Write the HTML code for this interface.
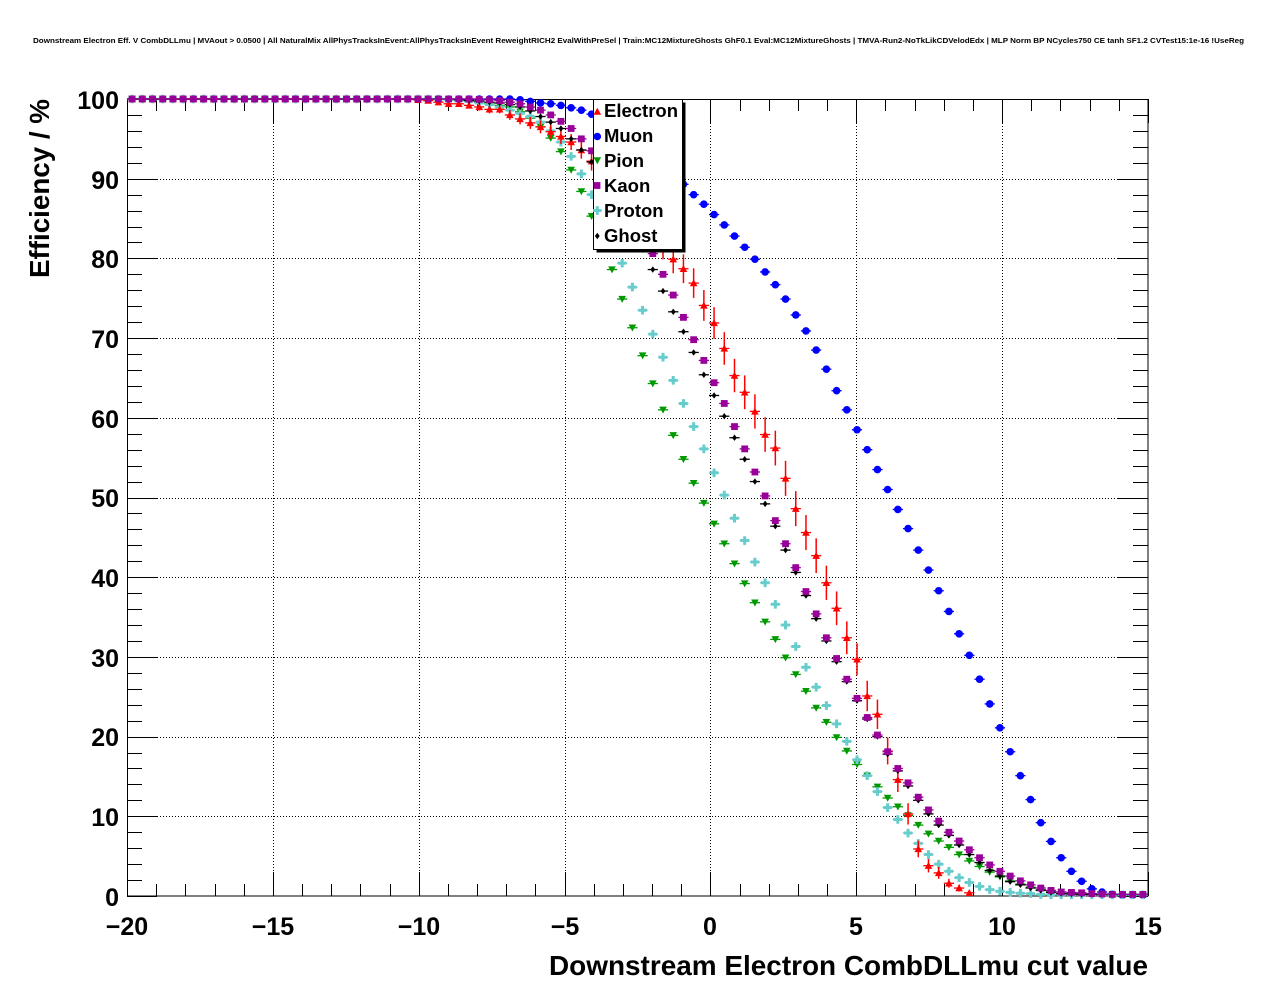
<!DOCTYPE html>
<html>
<head>
<meta charset="utf-8">
<style>
html,body{margin:0;padding:0;background:#fff;}
svg{display:block;}
text{font-family:"Liberation Sans",Arial,Helvetica,sans-serif;font-weight:bold;fill:#000;}
</style>
</head>
<body>
<svg id="c" width="1276" height="996" viewBox="0 0 1276 996" xmlns="http://www.w3.org/2000/svg">
<rect x="0" y="0" width="1276" height="996" fill="#fff"/>
<text x="33" y="43" font-size="7" textLength="1211" lengthAdjust="spacingAndGlyphs">Downstream Electron Eff. V CombDLLmu | MVAout &gt; 0.0500 | All NaturalMix AllPhysTracksInEvent:AllPhysTracksInEvent ReweightRICH2 EvalWithPreSel | Train:MC12MixtureGhosts GhF0.1 Eval:MC12MixtureGhosts | TMVA-Run2-NoTkLikCDVelodEdx | MLP Norm BP NCycles750 CE tanh SF1.2 CVTest15:1e-16 !UseReg</text>
<g id="grid"></g>
<g id="ticks"></g>
<rect x="127.5" y="99.5" width="1020.5" height="796.5" fill="none" stroke="#000" stroke-width="1"/>
<g id="data"></g>
<g font-size="25">
<text x="119" y="109" text-anchor="end">100</text>
<text x="119" y="189" text-anchor="end">90</text>
<text x="119" y="268" text-anchor="end">80</text>
<text x="119" y="348" text-anchor="end">70</text>
<text x="119" y="428" text-anchor="end">60</text>
<text x="119" y="507" text-anchor="end">50</text>
<text x="119" y="587" text-anchor="end">40</text>
<text x="119" y="667" text-anchor="end">30</text>
<text x="119" y="746" text-anchor="end">20</text>
<text x="119" y="826" text-anchor="end">10</text>
<text x="119" y="906" text-anchor="end">0</text>
<text x="127" y="935" text-anchor="middle">−20</text>
<text x="273" y="935" text-anchor="middle">−15</text>
<text x="419" y="935" text-anchor="middle">−10</text>
<text x="565" y="935" text-anchor="middle">−5</text>
<text x="710" y="935" text-anchor="middle">0</text>
<text x="856" y="935" text-anchor="middle">5</text>
<text x="1002" y="935" text-anchor="middle">10</text>
<text x="1148" y="935" text-anchor="middle">15</text>
</g>
<text x="549" y="975" font-size="28" textLength="599" lengthAdjust="spacingAndGlyphs">Downstream Electron CombDLLmu cut value</text>
<text transform="translate(49,99) rotate(-90)" text-anchor="end" font-size="28" textLength="179" lengthAdjust="spacingAndGlyphs">Efficiency / %</text>
<g id="legend">
<rect x="596.5" y="102.5" width="89" height="150" fill="#000"/>
<rect x="593.5" y="99.5" width="89" height="150" fill="#fff" stroke="#000" stroke-width="1"/>
<g id="legmarks"></g>
<g font-size="18.5">
<text x="604" y="117">Electron</text>
<text x="604" y="142">Muon</text>
<text x="604" y="167">Pion</text>
<text x="604" y="192">Kaon</text>
<text x="604" y="217">Proton</text>
<text x="604" y="242">Ghost</text>
</g>
</g>
</svg>
<script>
(function(){
var NS="http://www.w3.org/2000/svg";
function el(parent,tag,attrs){var e=document.createElementNS(NS,tag);for(var k in attrs)e.setAttribute(k,attrs[k]);parent.appendChild(e);return e;}
function X(x){return 127+(x+20)*1021/35;}
function Y(v){return 896-v*7.97;}
var grid=document.getElementById('grid'),ticks=document.getElementById('ticks'),data=document.getElementById('data'),lm=document.getElementById('legmarks');
for(var v=10;v<=90;v+=10){var y=Math.round(Y(v))+0.5;el(grid,'line',{x1:127,x2:1148,y1:y,y2:y,stroke:'#000','stroke-width':1,'stroke-dasharray':'1,2'});}
for(var x=-15;x<=10;x+=5){var px=Math.round(X(x))+0.5;el(grid,'line',{x1:px,x2:px,y1:99,y2:896,stroke:'#000','stroke-width':1,'stroke-dasharray':'1,2'});}
for(var x=-20;x<=15;x++){var px=Math.round(X(x))+0.5;var L=(x%5===0)?24:12;
 el(ticks,'line',{x1:px,x2:px,y1:896,y2:896-L,stroke:'#000','stroke-width':1});
 el(ticks,'line',{x1:px,x2:px,y1:99,y2:99+L,stroke:'#000','stroke-width':1});}
for(var v=0;v<=100;v+=2){var y=Math.round(Y(v))+0.5;var L=(v%10===0)?30:15;
 el(ticks,'line',{x1:127,x2:127+L,y1:y,y2:y,stroke:'#000','stroke-width':1});
 el(ticks,'line',{x1:1148,x2:1148-L,y1:y,y2:y,stroke:'#000','stroke-width':1});}
function build(start,vals,pre){var a=[];for(var i=0;i<100;i++){if(i<start)a.push(pre);else if(i-start<vals.length)a.push(vals[i-start]);else a.push(vals[vals.length-1]);}return a;}
var mu=build(35,[100,100,100,99.9,99.7,99.5,99.4,99.2,98.9,98.6,98.1,97.5,96.8,96.0,95.1,94.1,93.0,91.8,90.6,89.3,88.0,86.8,85.5,84.2,82.8,81.4,79.9,78.3,76.7,74.9,72.9,70.9,68.5,66.1,63.4,61.0,58.5,56.0,53.5,51.0,48.5,46.1,43.4,40.9,38.3,35.7,32.9,30.2,27.2,24.1,21.1,18.1,15.1,12.1,9.2,6.85,4.8,3.1,1.85,0.9,0.5,0.25,0.1,0.1,0.1],100);
var el_=build(28,[99.9,99.8,99.6,99.4,99.4,99.2,99.0,98.7,98.7,98.0,97.5,97.0,96.5,95.9,95.3,94.6,93.6,92.2,90.9,89.6,88.1,86.6,85.0,83.3,81.6,79.9,78.7,76.9,74.1,71.9,68.7,65.3,63.2,60.8,57.9,56.2,52.4,48.6,45.6,42.7,39.3,36.1,32.4,29.7,25.1,22.8,18.2,14.6,10.3,5.9,3.8,2.9,1.6,1.0,0.4,0],100);
var pi=build(30,[99.95,99.9,99.85,99.75,99.6,99.4,99.2,99.0,98.4,97.6,96.5,95.1,93.4,91.1,88.4,85.3,82.0,78.6,74.9,71.3,67.8,64.3,61.0,57.8,54.8,51.8,49.3,46.7,44.2,41.7,39.2,36.8,34.4,32.2,29.9,27.8,25.7,23.6,21.8,19.9,18.2,16.5,15.1,13.7,12.3,11.2,10.1,8.9,7.8,6.9,6.1,5.2,4.4,3.7,3.0,2.4,1.9,1.5,1.1,0.8,0.6,0.5,0.35,0.25,0.2,0.15,0.1],100);
var ka=build(34,[99.95,99.9,99.8,99.6,99.4,99.0,98.6,98.0,97.2,96.3,95.0,93.5,91.6,89.6,87.5,85.2,82.9,80.6,78.0,75.4,72.6,69.8,67.2,64.4,61.8,58.9,56.1,53.2,50.2,47.1,44.2,41.2,38.2,35.4,32.4,29.8,27.2,24.8,22.4,20.2,18.1,16.0,14.2,12.4,10.8,9.4,8.0,6.9,5.8,4.8,3.9,3.1,2.5,1.9,1.4,1.0,0.7,0.5,0.45,0.4,0.3,0.25,0.2],100);
var gh=build(32,[99.9,99.8,99.75,99.6,99.5,99.3,99.0,98.5,97.8,97.1,96.3,95.0,93.6,92.1,90.1,88.0,85.8,83.5,81.1,78.6,75.9,73.3,70.8,68.2,65.4,62.8,60.2,57.5,54.8,52.0,49.2,46.4,43.4,40.6,37.7,34.8,32.0,29.4,26.9,24.5,22.2,20.0,17.8,15.7,13.8,12.0,10.3,8.9,7.6,6.4,5.2,4.2,3.2,2.5,1.8,1.4,1.0,0.7,0.45,0.3,0.25,0.2],100);
var pr=build(31,[99.9,99.8,99.7,99.5,99.3,99.0,98.6,98.2,97.8,97.1,96.0,94.6,92.8,90.6,88.0,85.0,82.3,79.4,76.4,73.5,70.5,67.6,64.7,61.8,58.9,56.1,53.1,50.3,47.4,44.6,41.9,39.3,36.6,34.0,31.3,28.7,26.2,23.9,21.6,19.4,17.1,15.1,13.1,11.1,9.6,7.9,6.6,5.2,4.0,3.1,2.3,1.7,1.2,0.8,0.6,0.45,0.35,0.3,0.2,0.15],100);
function marker(g,type,cx,cy,col){
 if(type==='circle'){el(g,'circle',{cx:cx,cy:cy,r:3.8,fill:col});}
 else if(type==='tup'){el(g,'polygon',{points:(cx-3.8)+','+(cy+3.2)+' '+(cx+3.8)+','+(cy+3.2)+' '+cx+','+(cy-3.8),fill:col});}
 else if(type==='tdown'){el(g,'polygon',{points:(cx-3.8)+','+(cy-3.2)+' '+(cx+3.8)+','+(cy-3.2)+' '+cx+','+(cy+3.8),fill:col});}
 else if(type==='square'){el(g,'rect',{x:cx-3.4,y:cy-3.4,width:6.8,height:6.8,fill:col});}
 else if(type==='cross'){var a=4.3,b=1.5;el(g,'polygon',{points:[[cx-b,cy-a],[cx+b,cy-a],[cx+b,cy-b],[cx+a,cy-b],[cx+a,cy+b],[cx+b,cy+b],[cx+b,cy+a],[cx-b,cy+a],[cx-b,cy+b],[cx-a,cy+b],[cx-a,cy-b],[cx-b,cy-b]].map(function(p){return p[0]+','+p[1];}).join(' '),fill:col});}
 else if(type==='diamond'){el(g,'polygon',{points:(cx-2.4)+','+cy+' '+cx+','+(cy-3.2)+' '+(cx+2.4)+','+cy+' '+cx+','+(cy+3.2),fill:col});}
}
function series(vals,type,col,errN,skipZero){
 var g=el(data,'g',{});
 for(var i=0;i<100;i++){
  if(skipZero && vals[i]<=0) continue;
  var xc=X(-20+0.175+0.35*i),yc=Y(vals[i]);
  el(g,'line',{x1:xc-5.1,x2:xc+5.1,y1:yc,y2:yc,stroke:col,'stroke-width':1.3});
  if(errN){var p=vals[i]/100;var s=Math.sqrt(Math.max(p*(1-p),0)/errN)*100*7.97;
   if(s>0.5)el(g,'line',{x1:xc,x2:xc,y1:yc-s,y2:Math.min(yc+s,896),stroke:col,'stroke-width':1.5});}
  marker(g,type,xc,yc,col);
 }
}
var RED='#ff0000',BLUE='#0000ff',GREEN='#009900',PURP='#990099',CYAN='#66cccc',BLK='#000000';
series(mu,'circle',BLUE,0,false);
series(pi,'tdown',GREEN,0,false);
series(pr,'cross',CYAN,0,false);
series(el_,'tup',RED,516,true);
series(gh,'diamond',BLK,0,false);
series(ka,'square',PURP,0,false);
marker(lm,'tup',597.3,111.5,RED);
marker(lm,'circle',597.3,136.5,BLUE);
marker(lm,'tdown',597.3,160.5,GREEN);
marker(lm,'square',597,185.5,PURP);
marker(lm,'cross',597.3,210.5,CYAN);
marker(lm,'diamond',597.3,236,BLK);
})();
</script>
</body>
</html>
